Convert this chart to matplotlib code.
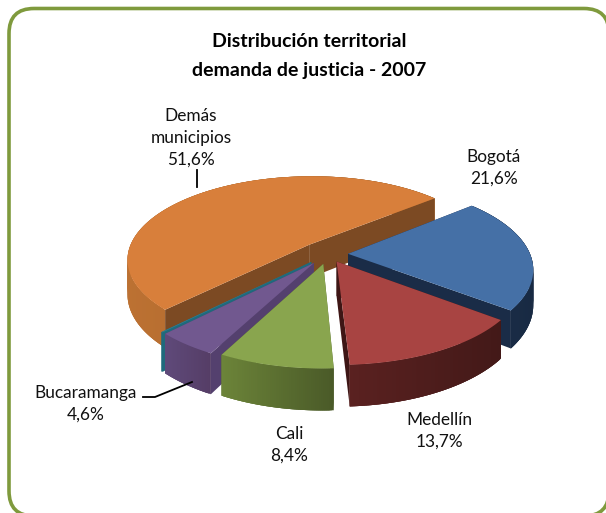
import numpy as np
import matplotlib
matplotlib.use("Agg")
import matplotlib.pyplot as plt
from matplotlib.patches import FancyBboxPatch, Polygon
from matplotlib.colors import to_rgb

title = "Distribución territorial\ndemanda de justicia - 2007"
names = ["Bogotá", "Medellín", "Cali", "Bucaramanga", "Otros", "Demás\nmunicipios"]
values = [21.6, 13.7, 8.4, 4.6, 0.1, 51.6]
shown = ["21,6%", "13,7%", "8,4%", "4,6%", "", "51,6%"]

explode = [0.11, 0.10, 0.12, 0.13, 0.13, 0.155]
top_colors = ["#4570A6", "#A84442", "#89A54E", "#71588F", "#2F7F93", "#D87F3B"]
wall_left = ["#1B2E4A", "#5A2120", "#6C8439", "#5F4A7A", "#1F6A7C", "#BC7132"]
wall_right = ["#182A43", "#431918", "#4A5A28", "#553D66", "#1F6A7C", "#9E602A"]
side_colors = ["#1A2C47", "#3E1615", "#4E5F2B", "#54406E", "#1F6A7C", "#7C4A23"]

# pie geometry, in pixels of the picture
start_angle = 50
cx, cy = 328, 254
rx, ry = 182, 83
persp = 0.17
depth = 34

plt.rcParams["font.family"] = ["Lato", "DejaVu Sans"]

fig = plt.figure(figsize=(6.06, 5.13), dpi=100)
ax = fig.add_axes([0, 0, 1, 1])
ax.set_xlim(0, 606)
ax.set_ylim(513, 0)
ax.axis("off")

ax.add_patch(FancyBboxPatch((9 + 25, 8.5 + 25), 600 - 50, 507.5 - 50,
                            boxstyle="round,pad=25,rounding_size=25",
                            fc="white", ec="#7F9A3D", lw=2.6))


def project(mx, my, down=0.0):
    s = 1 / (1 - persp * my)
    return cx + rx * mx * s, cy + ry * my * s + depth * s * down


def mix(c1, c2, t):
    a, b = np.array(to_rgb(c1)), np.array(to_rgb(c2))
    return a + (b - a) * t


def draw_slice(i, a0, a1):
    mid = np.radians((a0 + a1) / 2)
    ox, oy = explode[i] * np.sin(mid), -explode[i] * np.cos(mid)
    th = np.radians(np.linspace(a0, a1, max(int((a1 - a0) * 2), 4)))
    ex, ey = ox + np.sin(th), oy - np.cos(th)
    xs, ys = project(ex, ey)
    xb, yb = project(ex, ey, 1)

    def radial_walls(order):
        for k in (0, -1):
            pts = [project(ox, oy), project(ex[k], ey[k]),
                   project(ex[k], ey[k], 1), project(ox, oy, 1)]
            ax.add_patch(Polygon(pts, fc=side_colors[i], ec="none", zorder=order))

    # the big slice shows its cut faces in front of its back wall,
    # the others hide them behind the outer wall
    radial_walls(3 if a1 - a0 > 180 else 1)

    # outer wall, in overlapping strips for the shading
    xmin, xmax = xs.min(), xs.max()
    n = len(th)
    for k in range(n - 1):
        k2 = min(k + 3, n - 1)
        t = ((xs[k] + xs[k + 1]) / 2 - xmin) / max(xmax - xmin, 1)
        col = mix(wall_left[i], wall_right[i], t)
        pts = [(xs[k], ys[k]), (xs[k2], ys[k2]), (xb[k2], yb[k2]), (xb[k], yb[k])]
        ax.add_patch(Polygon(pts, fc=col, ec="none", zorder=2))

    top = [project(ox, oy)] + list(zip(xs, ys))
    ax.add_patch(Polygon(top, fc=top_colors[i], ec="none", zorder=4))


def draw_layered(i, a0, a1):
    # each slice sits on its own level so nearer slices paint over farther ones
    before = len(ax.patches)
    draw_slice(i, a0, a1)
    for p in ax.patches[before:]:
        p.set_zorder(p.get_zorder() + 10 * (draw_order.index(i) + 1))


edges = start_angle + np.cumsum([0] + values) * 3.6
draw_order = [5, 0, 4, 3, 2, 1]
for i in draw_order:
    draw_layered(i, edges[i], edges[i + 1])

ax.text(309, 56, title, ha="center", va="center", fontsize=14, zorder=100,
        fontweight="bold", color="black", linespacing=1.8)

label_pos = [(494, 168), (439, 431), (289, 444.5), (86, 403.5), None, (191, 138)]
for name, txt, pos in zip(names, shown, label_pos):
    if pos is None:
        continue
    ax.text(pos[0], pos[1], name + "\n" + txt, ha="center", va="center", zorder=100,
            fontsize=12.4, color="#111111", linespacing=1.45)

# leader lines
ax.plot([197, 197], [170, 187], color="black", lw=1.3, zorder=100)
ax.plot([143, 155, 192], [397, 397, 382], color="black", lw=1.3, zorder=100)

fig.savefig("out.png", dpi=100)
